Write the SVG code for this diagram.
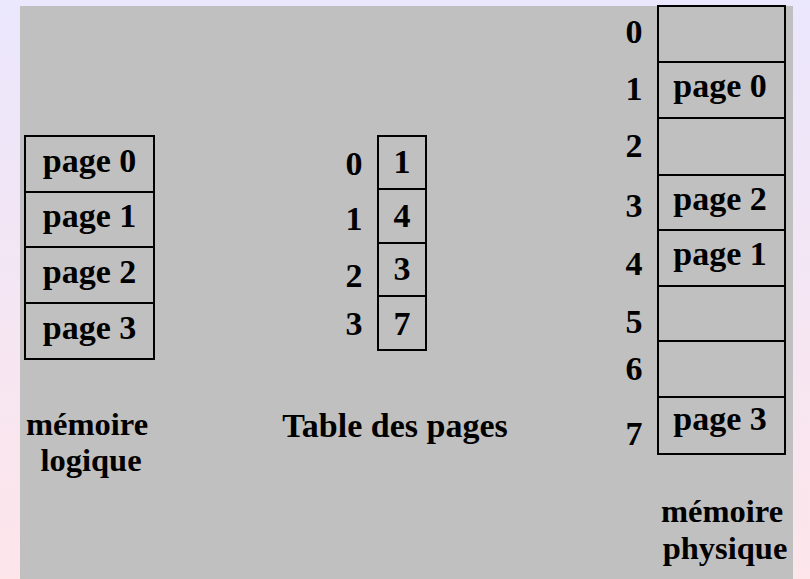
<svg xmlns="http://www.w3.org/2000/svg" width="810" height="579" viewBox="0 0 810 579">
<defs>
<linearGradient id="bg" x1="0" y1="0" x2="0" y2="1">
<stop offset="0" stop-color="#EBE7FD"/>
<stop offset="1" stop-color="#FDE5EA"/>
</linearGradient>
<style>
.cell{fill:#C0C0C0;stroke:#000;stroke-width:2}
.t{font-family:"Liberation Serif","Times New Roman",serif;font-weight:bold;font-size:34px;fill:#000;text-anchor:middle}
.lab{font-size:32.5px}
</style>
</defs>
<rect x="0" y="0" width="810" height="579" fill="url(#bg)"/>
<rect x="20" y="6" width="773" height="573" fill="#C0C0C0"/>

<g id="logical-memory">
<rect class="cell" x="25" y="136" width="129" height="56"/>
<rect class="cell" x="25" y="192" width="129" height="55"/>
<rect class="cell" x="25" y="247" width="129" height="56"/>
<rect class="cell" x="25" y="303" width="129" height="56"/>
<text class="t" x="89.5" y="172">page 0</text>
<text class="t" x="89.5" y="227">page 1</text>
<text class="t" x="89.5" y="283">page 2</text>
<text class="t" x="89.5" y="339">page 3</text>
<text class="t lab" x="87" y="435">mémoire</text>
<text class="t lab" x="91" y="471">logique</text>
</g>

<g id="page-table">
<rect class="cell" x="378" y="136" width="48" height="53"/>
<rect class="cell" x="378" y="189" width="48" height="54"/>
<rect class="cell" x="378" y="243" width="48" height="53"/>
<rect class="cell" x="378" y="296" width="48" height="54"/>
<text class="t" x="354" y="175">0</text>
<text class="t" x="354" y="230">1</text>
<text class="t" x="354" y="287">2</text>
<text class="t" x="354" y="335">3</text>
<text class="t" x="402" y="173">1</text>
<text class="t" x="402" y="227">4</text>
<text class="t" x="402" y="280">3</text>
<text class="t" x="402" y="335">7</text>
<text class="t" x="395" y="437">Table des pages</text>
</g>

<g id="physical-memory">
<rect class="cell" x="658" y="6" width="127" height="56"/>
<rect class="cell" x="658" y="62" width="127" height="56"/>
<rect class="cell" x="658" y="118" width="127" height="57"/>
<rect class="cell" x="658" y="175" width="127" height="55"/>
<rect class="cell" x="658" y="230" width="127" height="56"/>
<rect class="cell" x="658" y="286" width="127" height="55"/>
<rect class="cell" x="658" y="341" width="127" height="56"/>
<rect class="cell" x="658" y="397" width="127" height="57"/>
<text class="t" x="634" y="43">0</text>
<text class="t" x="634" y="100">1</text>
<text class="t" x="634" y="157">2</text>
<text class="t" x="634" y="217">3</text>
<text class="t" x="634" y="275">4</text>
<text class="t" x="634" y="333">5</text>
<text class="t" x="634" y="380">6</text>
<text class="t" x="634" y="445">7</text>
<text class="t" x="720" y="97">page 0</text>
<text class="t" x="720" y="210">page 2</text>
<text class="t" x="720" y="265">page 1</text>
<text class="t" x="720" y="430">page 3</text>
<text class="t lab" x="722" y="522">mémoire</text>
<text class="t lab" x="725" y="559">physique</text>
</g>

<g id="connectors"></g>
</svg>
